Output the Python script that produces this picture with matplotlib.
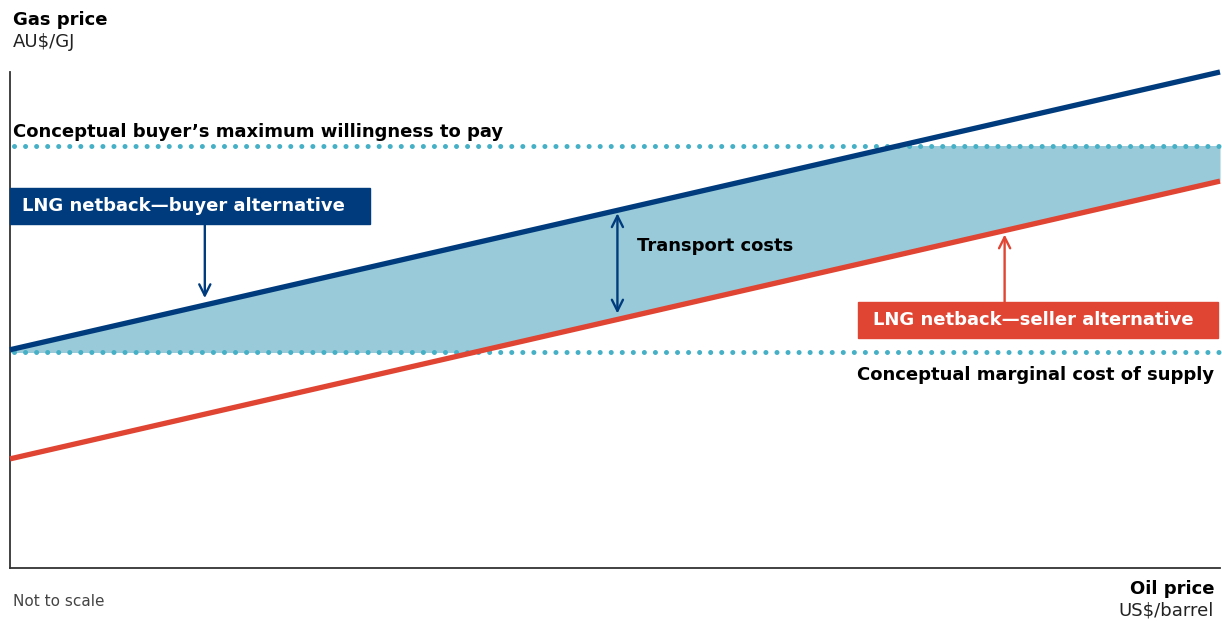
import numpy as np
import matplotlib.pyplot as plt
from matplotlib.patches import Rectangle

# conceptual chart, arbitrary units (not to scale)
oil = [0, 100]
buyer_netback = [44, 100]
seller_netback = [22, 78]
max_willingness = 85
marginal_cost = 43.5

BLUE = '#003c7d'
RED = '#e04433'
FILL = '#99cad9'
DOT = '#45b0c6'

plt.rcParams['font.family'] = ['DejaVu Sans']

fig = plt.figure(figsize=(12.22, 6.21), dpi=100)
ax = fig.add_axes([10 / 1222, 1 - 568 / 621, 1210 / 1222, 496 / 621])
ax.set_xlim(0, 100)
ax.set_ylim(0, 100)
ax.set_xticks([])
ax.set_yticks([])
for s in ['top', 'right']:
    ax.spines[s].set_visible(False)
for s in ['left', 'bottom']:
    ax.spines[s].set_color('#333333')
    ax.spines[s].set_linewidth(1.3)

# shaded band between the two netbacks, limited by the two dotted lines
band = ax.fill_between(oil, seller_netback, buyer_netback, color=FILL, lw=0, zorder=1)
band.set_clip_path(Rectangle((0, marginal_cost), 100, max_willingness - marginal_cost,
                             transform=ax.transData))

for yv in [max_willingness, marginal_cost]:
    ax.plot([0.3, 100], [yv, yv], color=DOT, lw=3.6, dashes=(0.01, 2.2),
            dash_capstyle='round', zorder=2, clip_on=False)

ax.plot(oil, buyer_netback, color=BLUE, lw=3.8, zorder=3, solid_capstyle='butt', clip_on=False)
ax.plot(oil, seller_netback, color=RED, lw=3.8, zorder=3, solid_capstyle='butt', clip_on=False)

def line_at(line, x):
    return np.interp(x, oil, line)

arrow_kw = dict(lw=1.7, mutation_scale=20, shrinkA=0, shrinkB=0)

# transport costs arrow
xt = 50.2
ax.annotate('', xy=(xt, line_at(seller_netback, xt) + 1.2), xytext=(xt, line_at(buyer_netback, xt) - 0.6),
            arrowprops=dict(arrowstyle='<->', color=BLUE, **arrow_kw), zorder=4)
ax.text(51.8, 65, 'Transport costs', fontsize=13, fontweight='semibold', va='center', ha='left')

# buyer label + arrow
xb = 16.1
ax.annotate('', xy=(xb, line_at(buyer_netback, xb) + 1.4), xytext=(xb, 69.4),
            arrowprops=dict(arrowstyle='->', color=BLUE, **arrow_kw), zorder=4)
fig.patches.append(Rectangle((10 / 1222, 1 - 224 / 621), 360 / 1222, 36 / 621,
                             transform=fig.transFigure, color=BLUE, zorder=5))
fig.text(22 / 1222, 1 - 206 / 621, 'LNG netback\u2014buyer alternative', color='white',
         fontsize=13, fontweight='semibold', va='center', ha='left', zorder=6)

# seller label + arrow
xs = 82.2
ax.annotate('', xy=(xs, line_at(seller_netback, xs) - 0.8), xytext=(xs, 53.6),
            arrowprops=dict(arrowstyle='->', color=RED, **arrow_kw), zorder=4)
fig.patches.append(Rectangle((858 / 1222, 1 - 338 / 621), 360 / 1222, 36 / 621,
                             transform=fig.transFigure, color=RED, zorder=5))
fig.text(1194 / 1222, 1 - 320 / 621, 'LNG netback\u2014seller alternative', color='white',
         fontsize=13, fontweight='semibold', va='center', ha='right', zorder=6)

# dotted line labels
fig.text(13 / 1222, 1 - 132 / 621, 'Conceptual buyer\u2019s maximum willingness to pay',
         fontsize=13, fontweight='semibold', va='center', ha='left')
fig.text(1214 / 1222, 1 - 375 / 621, 'Conceptual marginal cost of supply',
         fontsize=13, fontweight='semibold', va='center', ha='right')

# axis titles
fig.text(13 / 1222, 1 - 20 / 621, 'Gas price', fontsize=13, fontweight='bold', va='center')
fig.text(13 / 1222, 1 - 42 / 621, 'AU$/GJ', fontsize=13, color='#222222', va='center')
fig.text(1214 / 1222, 1 - 589 / 621, 'Oil price', fontsize=13, fontweight='bold', va='center', ha='right')
fig.text(1214 / 1222, 1 - 610 / 621, 'US$/barrel', fontsize=13, color='#222222',
         va='center', ha='right')
fig.text(13 / 1222, 1 - 601 / 621, 'Not to scale', fontsize=11, color='#444444', va='center')

fig.savefig('out.png', dpi=100)
